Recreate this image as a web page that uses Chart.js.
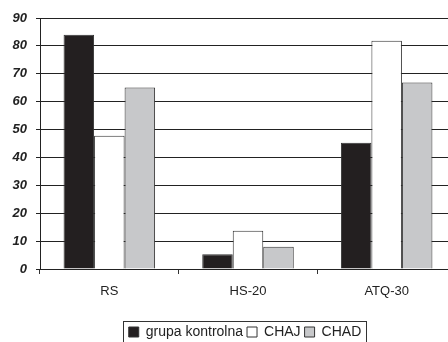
<!DOCTYPE html>
<html>
<head>
<meta charset="utf-8">
<script src="https://cdn.jsdelivr.net/npm/chart.js@4/dist/chart.umd.min.js"></script>
<style>
html,body{margin:0;padding:0;background:#fff;overflow:hidden;width:448px;height:342px;}
#wrap{width:460px;height:349px;position:relative;}
</style>
</head>
<body>
<div id="wrap"><canvas id="c" width="460" height="349"></canvas></div>
<script>
const categories = ["RS", "HS-20", "ATQ-30"];
const seriesNames = ["grupa kontrolna", "CHAJ", "CHAD"];
const grupaKontrolna = [84, 5.3, 45.3];
const chaj = [47.8, 13.7, 81.8];
const chad = [65.1, 8.0, 66.9];
const yTicks = [0, 10, 20, 30, 40, 50, 60, 70, 80, 90];

const legendTweak = {
  id: 'legendTweak',
  afterUpdate(chart) {
    const lg = chart.legend;
    if (!lg) return;
    const dx = 17;
    lg.left += dx; lg.right += dx;
    (lg.legendHitBoxes || []).forEach(h => { h.left += dx; });
  },
  afterDraw(chart) {
    const boxes = chart.legend.legendHitBoxes;
    if (!boxes || !boxes.length) return;
    let l = Infinity, r = -Infinity, t = Infinity, b = -Infinity;
    boxes.forEach(h => { l = Math.min(l, h.left); r = Math.max(r, h.left + h.width); t = Math.min(t, h.top); b = Math.max(b, h.top + h.height); });
    const ctx = chart.ctx;
    ctx.save();
    ctx.strokeStyle = '#333';
    ctx.lineWidth = 1;
    ctx.strokeRect(Math.round(l - 6) + 0.5, Math.round(t - 4) + 0.5, Math.round(r - l + 10), Math.round(b - t + 10));
    ctx.restore();
  }
};

const FONT = 'Liberation Sans, Arial, sans-serif';

new Chart(document.getElementById('c'), {
  type: 'bar',
  data: {
    labels: categories,
    datasets: [
      { label: seriesNames[0], data: grupaKontrolna, backgroundColor: '#231f20', borderColor: '#333', borderWidth: 1 },
      { label: seriesNames[1], data: chaj, backgroundColor: '#ffffff', borderColor: '#333', borderWidth: 1 },
      { label: seriesNames[2], data: chad, backgroundColor: '#c7c8ca', borderColor: '#333', borderWidth: 1 }
    ]
  },
  options: {
    responsive: false,
    animation: false,
    devicePixelRatio: 1,
    layout: { padding: { left: 0, right: 4, top: 18, bottom: 0 } },
    datasets: { bar: { categoryPercentage: 0.66, barPercentage: 1.0 } },
    plugins: {
      tooltip: { enabled: false },
      legend: {
        position: 'bottom',
        labels: {
          boxWidth: 10, boxHeight: 10, padding: 4,
          color: '#222',
          font: { family: FONT, size: 14 },
          generateLabels(chart) {
            return chart.data.datasets.map((d, i) => ({
              text: d.label, fillStyle: d.backgroundColor, strokeStyle: '#333', lineWidth: 1, datasetIndex: i, fontColor: '#222'
            }));
          }
        }
      }
    },
    scales: {
      x: {
        grid: { display: true, drawOnChartArea: false, drawTicks: true, tickLength: 5, color: '#333' },
        border: { display: true, color: '#222', width: 1 },
        ticks: { color: '#222', padding: 10, font: { family: FONT, size: 13 } },
        afterFit(s) { s.height = 52; }
      },
      y: {
        min: 0, max: 90,
        afterBuildTicks(s) { s.ticks = yTicks.map(v => ({ value: v })); },
        grid: { color: '#222', lineWidth: 1, tickLength: 4 },
        border: { display: true, color: '#222', width: 1 },
        ticks: { color: '#222', padding: 9, font: { family: FONT, size: 13, weight: 'bold', style: 'italic' } },
        afterFit(s) { s.width = 40; }
      }
    }
  },
  plugins: [legendTweak]
});
</script>
</body>
</html>
